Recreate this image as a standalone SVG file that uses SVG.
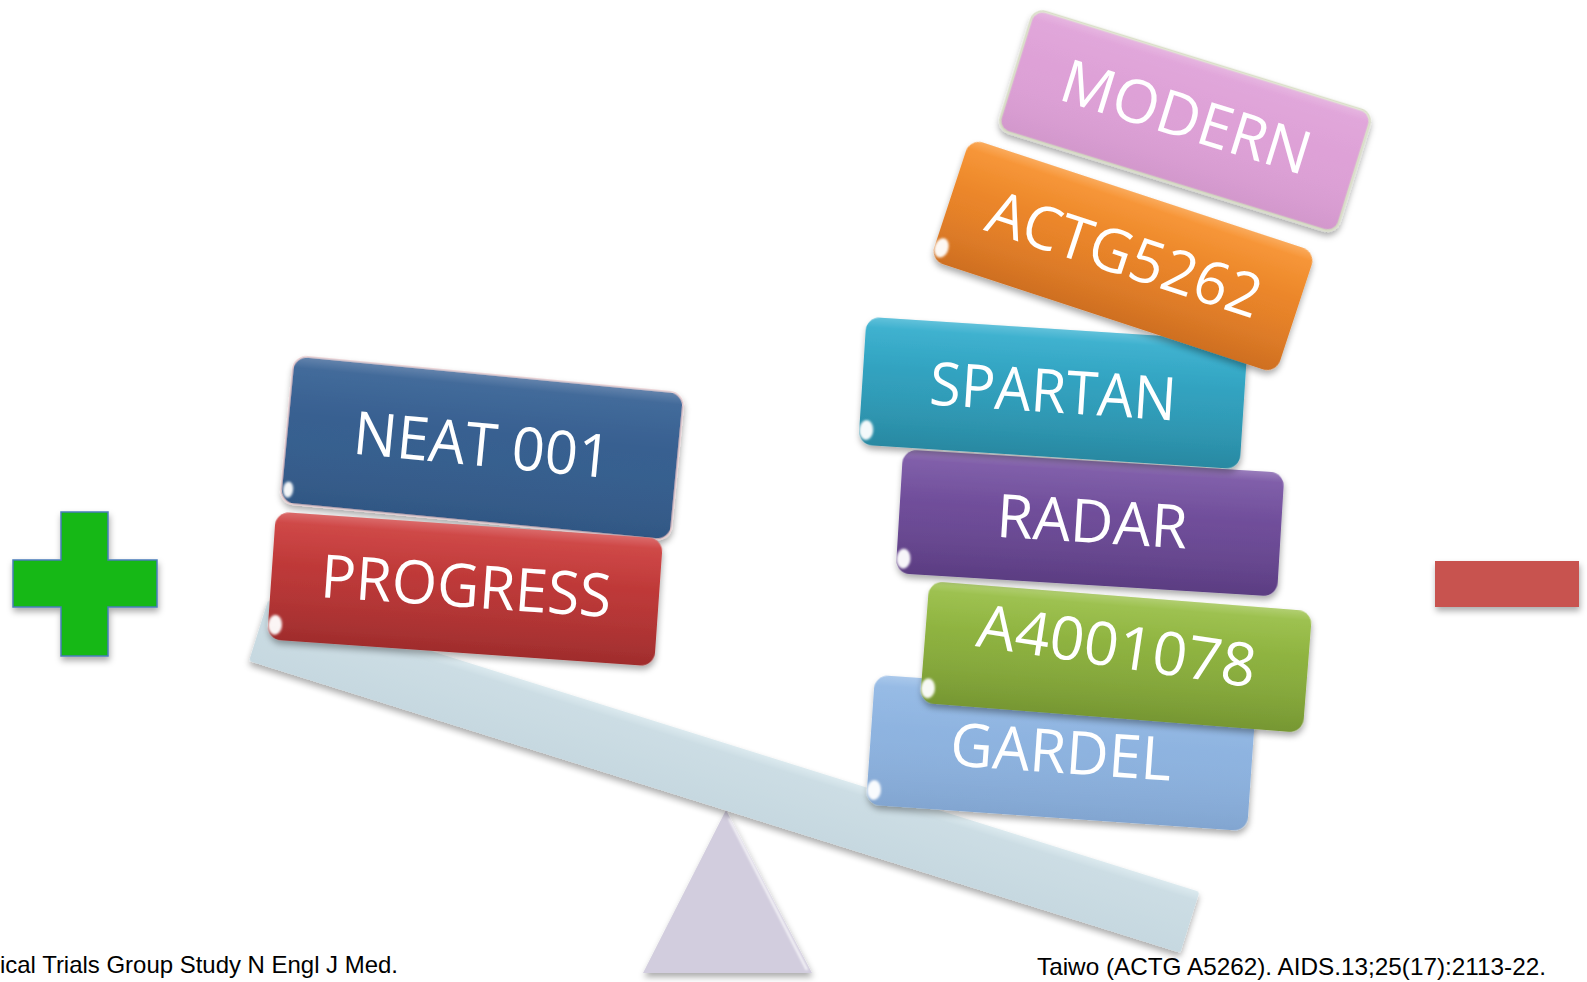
<svg xmlns="http://www.w3.org/2000/svg" width="1587" height="982" viewBox="0 0 1587 982">
  <defs>
    <filter id="drop" x="-10%" y="-20%" width="120%" height="150%">
      <feDropShadow dx="1" dy="4" stdDeviation="3" flood-color="#000" flood-opacity="0.33"/>
    </filter>
    <filter id="soft" x="-50%" y="-50%" width="200%" height="200%">
      <feGaussianBlur stdDeviation="1.2"/>
    </filter>
    <linearGradient id="gBlue" x1="0" y1="0" x2="0" y2="1">
      <stop offset="0" stop-color="#3A6496"/><stop offset="1" stop-color="#335A89"/>
    </linearGradient>
    <linearGradient id="gRed" x1="0" y1="0" x2="0" y2="1">
      <stop offset="0" stop-color="#D04140"/><stop offset="1" stop-color="#A62E2E"/>
    </linearGradient>
    <linearGradient id="gPink" x1="0" y1="0" x2="0" y2="1">
      <stop offset="0" stop-color="#E0A3D9"/><stop offset="1" stop-color="#DB9ED4"/>
    </linearGradient>
    <linearGradient id="gOrange" x1="0" y1="0" x2="0" y2="1">
      <stop offset="0" stop-color="#F9932F"/><stop offset="1" stop-color="#D77322"/>
    </linearGradient>
    <linearGradient id="gTeal" x1="0" y1="0" x2="0" y2="1">
      <stop offset="0" stop-color="#36B0D0"/><stop offset="1" stop-color="#2A8EA8"/>
    </linearGradient>
    <linearGradient id="gPurple" x1="0" y1="0" x2="0" y2="1">
      <stop offset="0" stop-color="#7C59A8"/><stop offset="1" stop-color="#5F3F87"/>
    </linearGradient>
    <linearGradient id="gGreen" x1="0" y1="0" x2="0" y2="1">
      <stop offset="0" stop-color="#9BC148"/><stop offset="1" stop-color="#7B9D34"/>
    </linearGradient>
    <linearGradient id="gSky" x1="0" y1="0" x2="0" y2="1">
      <stop offset="0" stop-color="#93B9E5"/><stop offset="1" stop-color="#87ACD9"/>
    </linearGradient>
    <linearGradient id="gloss" x1="0" y1="0" x2="0" y2="1">
      <stop offset="0" stop-color="#fff" stop-opacity="0.22"/>
      <stop offset="0.08" stop-color="#fff" stop-opacity="0.05"/>
      <stop offset="0.4" stop-color="#fff" stop-opacity="0"/>
      <stop offset="1" stop-color="#000" stop-opacity="0.04"/>
    </linearGradient>
    <linearGradient id="gBeam" x1="0" y1="0" x2="0" y2="1">
      <stop offset="0" stop-color="#DCEAEF"/><stop offset="0.15" stop-color="#CCDDE4"/><stop offset="1" stop-color="#C6D8E0"/>
    </linearGradient>
    <style>
      .box { filter: url(#drop); }
      .gloss { fill: url(#gloss); }
      .rim { fill: none; stroke: #fff; stroke-opacity: 0.45; stroke-width: 3; stroke-linecap: round; filter: url(#soft); }
      .spot { fill: #fff; fill-opacity: 0.95; filter: url(#soft); }
      .label { font-family: "Open Sans", "Noto Sans", sans-serif; font-size: 60px; fill: #fff; text-anchor: middle; }
      .note { font-family: "Liberation Sans", Arial, sans-serif; font-size: 24px; fill: #000; }
    </style>
  </defs>

  <!-- fulcrum -->
  <g id="fulcrum">
    <polygon points="726,810 643,973 812,973" fill="#D2CDDE" filter="url(#drop)"/>
    <path d="M729 818 L807 970" stroke="#fff" stroke-width="2" stroke-opacity="0.9" fill="none" filter="url(#soft)"/>
  </g>

  <!-- tilted plank -->
  <g id="beam" transform="translate(249 661) rotate(17.4)">
    <rect x="0" y="-64" width="976" height="64" rx="3" fill="url(#gBeam)" filter="url(#drop)"/>
    <path d="M6 -61 H970" stroke="#fff" stroke-opacity="0.55" stroke-width="2" fill="none" filter="url(#soft)"/>
    <path d="M972 -60 V-4" stroke="#fff" stroke-opacity="0.8" stroke-width="2.5" fill="none" filter="url(#soft)"/>
  </g>

  <!-- plus / minus signs -->
  <g id="plus">
    <path d="M61 512 H108 V560 H157 V607 H108 V656 H61 V607 H13 V560 H61 Z" fill="#12B812" stroke="#4A7EBB" stroke-width="1.5" filter="url(#drop)"/>
  </g>
  <g id="minus">
    <rect x="1435" y="561" width="144" height="46" fill="#C8534F" filter="url(#drop)"/>
  </g>

  <!-- right-hand stack -->
  <g id="node-gardel" transform="translate(1061 753) rotate(4)">
    <rect class="box" x="-191" y="-65" width="382" height="130" rx="14" fill="url(#gSky)"/>
    <rect class="gloss" x="-191" y="-65" width="382" height="130" rx="14"/>
    <path class="rim" d="M-178 -60 H178"/>
    <ellipse class="spot" cx="-184" cy="50" rx="7" ry="10"/>
    <text class="label" x="0" y="20" textLength="222" lengthAdjust="spacingAndGlyphs">GARDEL</text>
  </g>

  <g id="node-a4001078" transform="translate(1116 657) rotate(4.5)">
    <rect class="box" x="-192" y="-61" width="384" height="122" rx="14" fill="url(#gGreen)"/>
    <rect class="gloss" x="-192" y="-61" width="384" height="122" rx="14"/>
    <path class="rim" d="M-179 -56 H179"/>
    <ellipse class="spot" cx="-185" cy="46" rx="7" ry="10"/>
    <text class="label" x="0" y="10" textLength="281" lengthAdjust="spacingAndGlyphs" transform="rotate(4 0 -11)">A4001078</text>
  </g>

  <g id="node-radar" transform="translate(1090 523) rotate(3.5)">
    <rect class="box" x="-191" y="-62" width="382" height="124" rx="14" fill="url(#gPurple)"/>
    <rect class="gloss" x="-191" y="-62" width="382" height="124" rx="14"/>
    <path class="rim" d="M-178 -57 H178"/>
    <ellipse class="spot" cx="-184" cy="47" rx="7" ry="10"/>
    <text class="label" x="2" y="19.5" textLength="191" lengthAdjust="spacingAndGlyphs">RADAR</text>
  </g>

  <g id="node-spartan" transform="translate(1053 393) rotate(3.7)">
    <rect class="box" x="-191" y="-64" width="382" height="128" rx="14" fill="url(#gTeal)"/>
    <rect class="gloss" x="-191" y="-64" width="382" height="128" rx="14"/>
    <path class="rim" d="M-178 -59 H178"/>
    <ellipse class="spot" cx="-184" cy="49" rx="7" ry="10"/>
    <text class="label" x="0" y="19.5" textLength="247" lengthAdjust="spacingAndGlyphs">SPARTAN</text>
  </g>

  <g id="node-actg5262" transform="translate(1123 256) rotate(18.2)">
    <rect class="box" x="-182" y="-64" width="364" height="128" rx="14" fill="url(#gOrange)"/>
    <rect class="gloss" x="-182" y="-64" width="364" height="128" rx="14"/>
    <path class="rim" d="M-169 -59 H169"/>
    <ellipse class="spot" cx="-175" cy="49" rx="7" ry="10"/>
    <text class="label" x="1" y="19" textLength="285" lengthAdjust="spacingAndGlyphs">ACTG5262</text>
  </g>

  <g id="node-modern" transform="translate(1185 121) rotate(17.2)">
    <rect class="box" x="-177" y="-63" width="354" height="126" rx="12" fill="url(#gPink)" stroke="#DADEC9" stroke-width="2.5"/>
    <rect class="gloss" x="-177" y="-63" width="354" height="126" rx="12"/>
    <path class="rim" d="M-164 -58 H164"/>
    <text class="label" x="0" y="17" textLength="258" lengthAdjust="spacingAndGlyphs">MODERN</text>
  </g>

  <!-- left-hand stack -->
  <g id="node-neat001" transform="translate(482 448) rotate(5.5)">
    <rect class="box" x="-196" y="-74" width="392" height="148" rx="14" fill="url(#gBlue)" stroke="#E8CACD" stroke-width="1.5"/>
    <rect class="gloss" x="-196" y="-74" width="392" height="148" rx="14"/>
    <path class="rim" d="M-182 -69 H182"/>
    <ellipse class="spot" cx="-189" cy="60" rx="5" ry="8"/>
    <text class="label" x="0" y="18" textLength="258" lengthAdjust="spacingAndGlyphs">NEAT 001</text>
  </g>

  <g id="node-progress" transform="translate(465 589) rotate(4)">
    <rect class="box" x="-194" y="-64" width="388" height="128" rx="14" fill="url(#gRed)"/>
    <rect class="gloss" x="-194" y="-64" width="388" height="128" rx="14"/>
    <path class="rim" d="M-181 -59 H181"/>
    <ellipse class="spot" cx="-187" cy="49" rx="7" ry="10"/>
    <text class="label" x="1" y="18" textLength="291" lengthAdjust="spacingAndGlyphs">PROGRESS</text>
  </g>

  <!-- references -->
  <g id="notes">
    <text class="note" x="0" y="973" textLength="398" lengthAdjust="spacingAndGlyphs">ical Trials Group Study N Engl J Med.</text>
    <text class="note" x="1037" y="975" textLength="509" lengthAdjust="spacingAndGlyphs">Taiwo (ACTG A5262). AIDS.13;25(17):2113-22.</text>
  </g>
</svg>
